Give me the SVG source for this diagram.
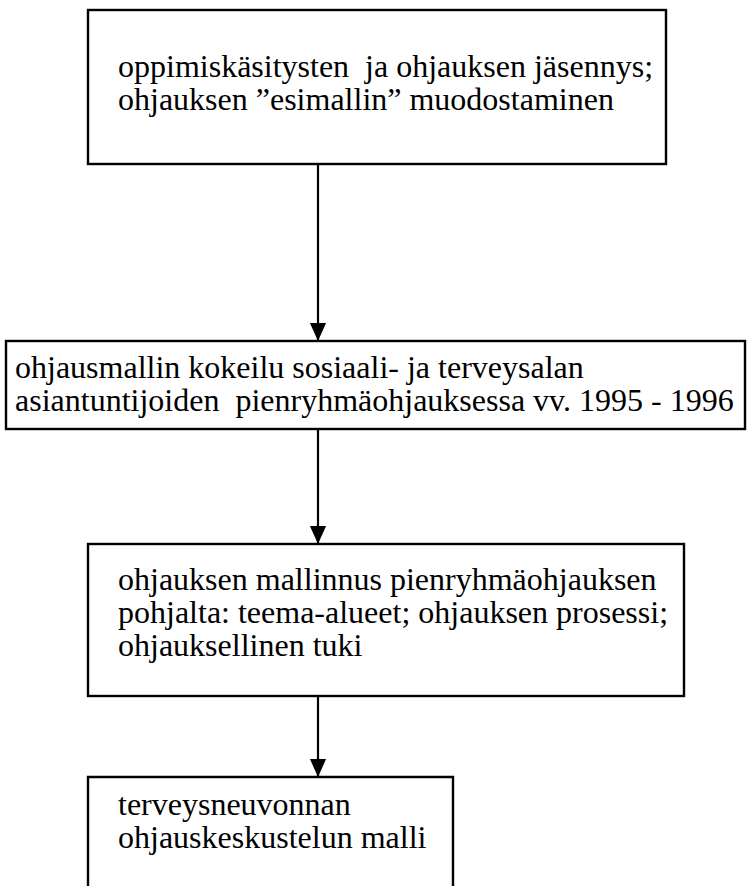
<svg xmlns="http://www.w3.org/2000/svg" width="751" height="886" viewBox="0 0 751 886">
  <style>
    .box { fill: #fff; stroke: #000; stroke-width: 2.4; }
    .lbl { font-family: 'Liberation Serif', 'Times New Roman', serif; font-size: 32px; fill: #000; }
    .flow { stroke: #000; stroke-width: 2.2; marker-end: url(#tri); }
  </style>
  <defs>
    <marker id="tri" markerWidth="18" markerHeight="20" refX="20" refY="9" orient="auto" markerUnits="userSpaceOnUse" viewBox="0 0 20 18">
      <path d="M0,0 L20,9 L0,18 Z" fill="#000"/>
    </marker>
  </defs>
  <rect width="751" height="886" fill="#fff"/>

  <!-- vertical flow arrows between the stages -->
  <g id="connectors">
    <line class="flow" x1="318" y1="164" x2="318" y2="341"/>
    <line class="flow" x1="318" y1="429" x2="318" y2="544"/>
    <line class="flow" x1="318" y1="696" x2="318" y2="777"/>
  </g>

  <g id="node-esimalli">
    <rect class="box" x="88" y="10" width="578" height="154"/>
    <text class="lbl" x="118" y="77" xml:space="preserve">oppimiskäsitysten  ja ohjauksen jäsennys;</text>
    <text class="lbl" x="118" y="110">ohjauksen ”esimallin” muodostaminen</text>
  </g>

  <g id="node-kokeilu">
    <rect class="box" x="6" y="341" width="739" height="88"/>
    <text class="lbl" x="15" y="378">ohjausmallin kokeilu sosiaali- ja terveysalan</text>
    <text class="lbl" x="15" y="411" xml:space="preserve">asiantuntijoiden  pienryhmäohjauksessa vv. 1995 - 1996</text>
  </g>

  <g id="node-mallinnus">
    <rect class="box" x="88" y="544" width="596" height="152"/>
    <text class="lbl" x="118" y="590">ohjauksen mallinnus pienryhmäohjauksen</text>
    <text class="lbl" x="118" y="623">pohjalta: teema-alueet; ohjauksen prosessi;</text>
    <text class="lbl" x="118" y="656">ohjauksellinen tuki</text>
  </g>

  <!-- last stage: its box runs on past the lower edge -->
  <g id="node-malli">
    <path class="box" d="M88,892 V777 H453 V892"/>
    <text class="lbl" x="118" y="815">terveysneuvonnan</text>
    <text class="lbl" x="118" y="848">ohjauskeskustelun malli</text>
  </g>
</svg>
